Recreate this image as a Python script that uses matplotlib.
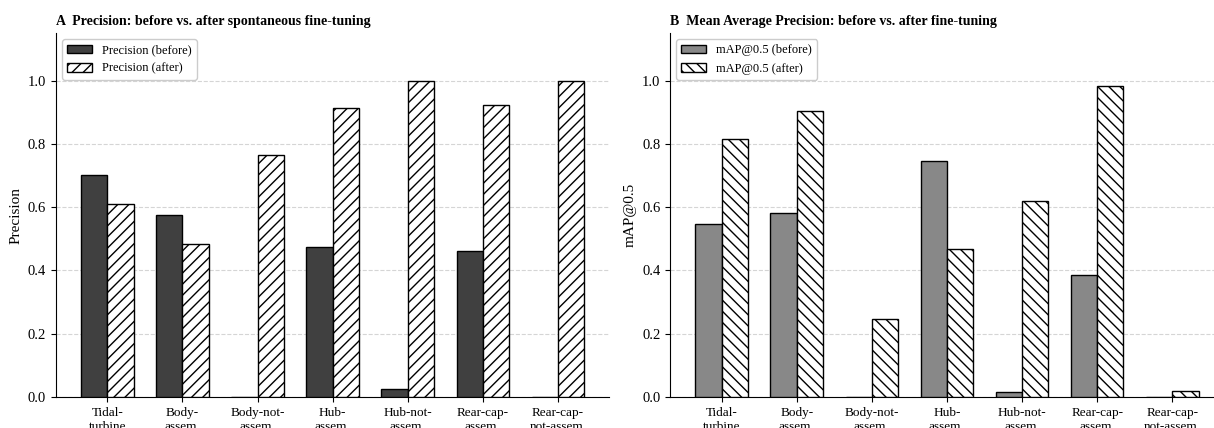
import matplotlib
matplotlib.use("Agg")
import matplotlib.pyplot as plt
import numpy as np

plt.rcParams['font.family'] = 'serif'
plt.rcParams['font.serif'] = ['Liberation Serif', 'DejaVu Serif']
plt.rcParams['hatch.linewidth'] = 1.0

# ---- data ----
categories = ['Tidal-\nturbine', 'Body-\nassem.', 'Body-not-\nassem.', 'Hub-\nassem.',
              'Hub-not-\nassem.', 'Rear-cap-\nassem.', 'Rear-cap-\nnot-assem.']

prec_before = [0.702, 0.576, 0.0, 0.475, 0.025, 0.463, 0.0]
prec_after = [0.610, 0.484, 0.766, 0.915, 1.0, 0.923, 1.0]

map_before = [0.547, 0.582, 0.0, 0.745, 0.015, 0.385, 0.0]
map_after = [0.815, 0.905, 0.248, 0.469, 0.620, 0.982, 0.018]

panels = [
    ('A  Precision: before vs. after spontaneous fine-tuning', 'Precision',
     prec_before, prec_after, 'Precision (before)', 'Precision (after)', '#404040', '///'),
    ('B  Mean Average Precision: before vs. after fine-tuning', 'mAP@0.5',
     map_before, map_after, 'mAP@0.5 (before)', 'mAP@0.5 (after)', '#888888', '\\\\\\'),
]

fig = plt.figure(figsize=(12.14, 4.28), dpi=100)
positions = [[0.046, 0.0724, 0.456, 0.850], [0.552, 0.0724, 0.456, 0.850]]

x = np.arange(len(categories))
w = 0.35

for pos, (title, ylab, before, after, lb, la, col, hatch) in zip(positions, panels):
    ax = fig.add_axes(pos)
    ax.bar(x - w/2, before, w, color=col, edgecolor='black', linewidth=1.0,
           label=lb, zorder=3)
    ax.bar(x + w/2, after, w, color='white', edgecolor='black', linewidth=1.0,
           hatch=hatch, label=la, zorder=3)
    ax.set_ylim(0, 1.15)
    ax.set_yticks([0.0, 0.2, 0.4, 0.6, 0.8, 1.0])
    ax.set_xticks(x)
    ax.set_xticklabels(categories, fontsize=9.5)
    ax.tick_params(axis='y', labelsize=10.5)
    ax.set_ylabel(ylab, fontsize=11)
    ax.set_title(title, loc='left', fontweight='bold', fontsize=10, pad=6)
    ax.yaxis.grid(True, linestyle='--', color='#d5d5d5', linewidth=0.8, zorder=0)
    ax.set_axisbelow(True)
    ax.spines['top'].set_visible(False)
    ax.spines['right'].set_visible(False)
    ax.legend(loc='upper left', fontsize=9, frameon=True, edgecolor='#cccccc',
              framealpha=1.0)

fig.savefig('out.png', dpi=100)
